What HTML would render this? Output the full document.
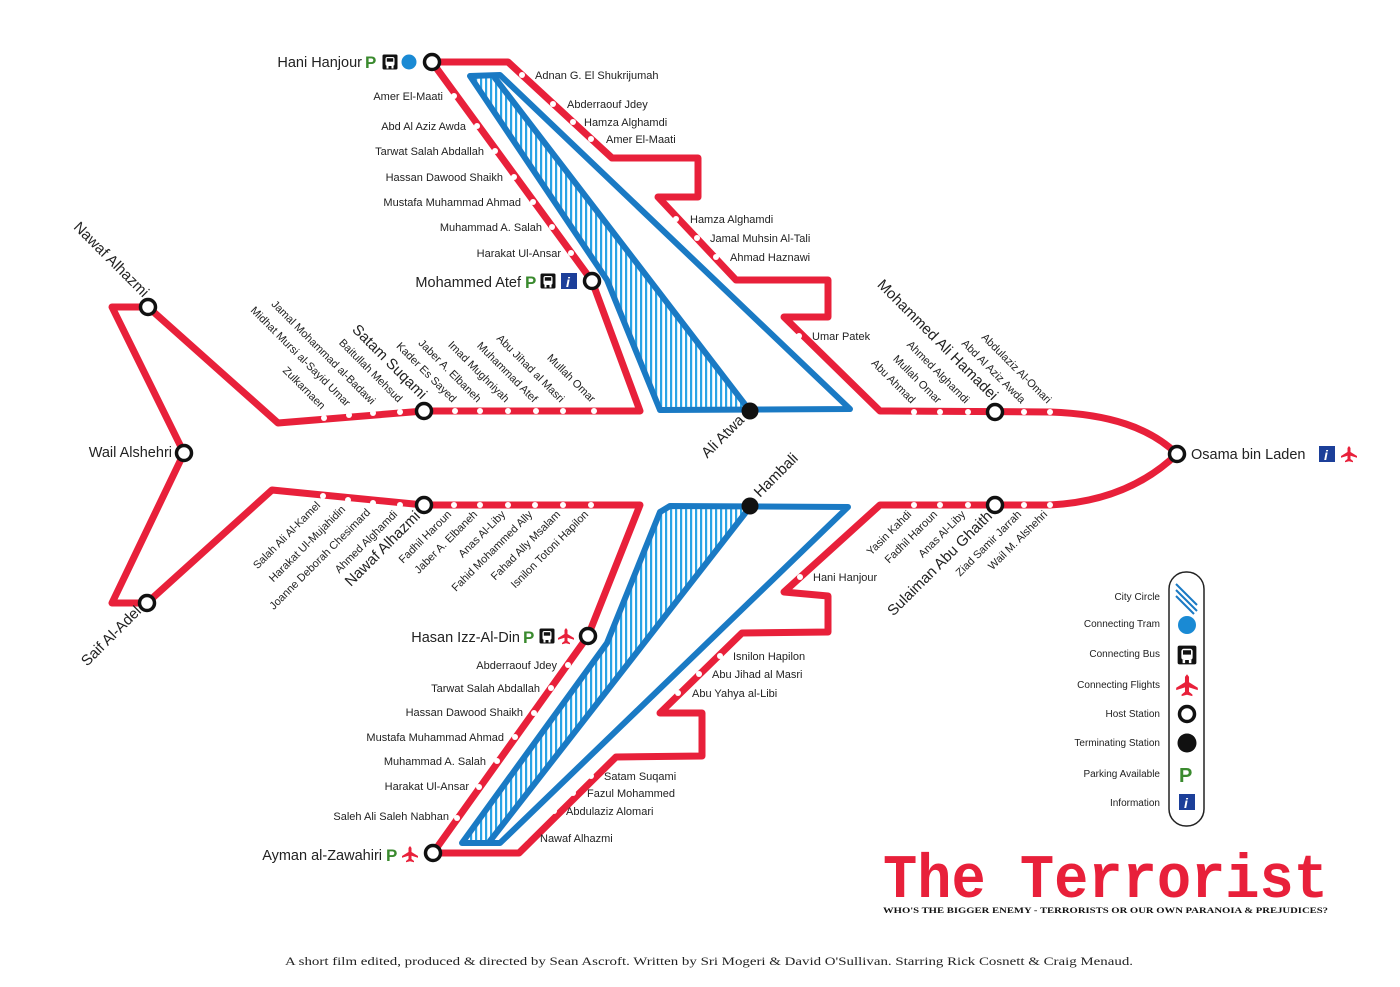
<!DOCTYPE html>
<html><head><meta charset="utf-8"><style>
html,body{margin:0;padding:0;background:#fff;}
svg{display:block;}
text{font-family:"Liberation Sans",sans-serif;fill:#222;}
.s{font-size:11px;}
.m{font-size:14.5px;}
.b{font-size:15px;}
</style></head><body>
<svg width="1400" height="987" viewBox="0 0 1400 987" xmlns="http://www.w3.org/2000/svg">
<defs>
<pattern id="hatch" width="5" height="10" patternUnits="userSpaceOnUse">
<rect width="5" height="10" fill="#fff"/><rect x="0" width="2.2" height="10" fill="#29a3e6"/>
</pattern>
<g id="plane"><path d="M0,-8 L1.5,-6 L1.5,-2 L8,2 L8,3.8 L1.5,1.8 L1.5,5 L4,7 L4,8.2 L0,7.2 L-4,8.2 L-4,7 L-1.5,5 L-1.5,1.8 L-8,3.8 L-8,2 L-1.5,-2 L-1.5,-6 Z" fill="#e8203a"/></g>
<g id="bus"><rect x="-7.5" y="-7.5" width="15" height="15" rx="1.5" fill="#111"/><rect x="-4.5" y="-5" width="9" height="9" rx="2" fill="#fff"/><rect x="-3.2" y="-3.8" width="6.4" height="3.5" fill="#111"/><rect x="-3.5" y="4" width="2" height="2.5" fill="#fff"/><rect x="1.5" y="4" width="2" height="2.5" fill="#fff"/></g>
<g id="info"><rect x="-8" y="-8" width="16" height="16" fill="#1c3f99"/></g>
</defs>

<!-- Blue hatched areas -->
<path d="M468,78 L495,78 Q600,215 750,411 L660,410 L607,280 Z" fill="url(#hatch)"/>
<path d="M662,509 L750,507 L490,841 L462,842 L607,643 Z" fill="url(#hatch)"/>
<g fill="none" stroke="#1a7ac4" stroke-width="6" stroke-linejoin="round" stroke-linecap="round">
<path d="M470,76 L500,75 L850,409 L660,410 L607,280 Z"/>
<path d="M495,78 Q600,215 750,411"/>
<path d="M670,506 L848,507 L500,843 L462,843 L607,643 L660,512 Z"/>
<path d="M750,507 L490,841"/>
</g>

<!-- Red lines -->
<g fill="none" stroke="#e8203a" stroke-width="7" stroke-linejoin="round" stroke-linecap="round">
<path d="M432,62 L508,62 L612,158 L698,158 L698,197 L658,197 L736,280 L828,280 L828,317 L784,317 L880,411 L1050,412 C1110,414 1150,428 1177,454 C1150,480 1110,502 1050,505 L880,505 L784,592 L828,596 L828,632 L742,633 L660,713 L702,713 L702,756 L616,757 L519,853 L433,853"/>
<path d="M432,62 L592,281 L640,411 L424,411 L278,423 L148,307 L112,307 L184,453 L112,603 L147,603 L272,490 L424,505 L640,505 L588,636 L433,853"/>
</g>

<!-- small dots -->
<g fill="#fff">
<circle cx="454" cy="96" r="3"/><circle cx="477" cy="126" r="3"/><circle cx="495" cy="151" r="3"/><circle cx="514" cy="177" r="3"/><circle cx="533" cy="202" r="3"/><circle cx="552" cy="227" r="3"/><circle cx="571" cy="253" r="3"/>
<circle cx="522" cy="75" r="3"/><circle cx="553" cy="104" r="3"/><circle cx="573" cy="122" r="3"/><circle cx="591" cy="139" r="3"/>
<circle cx="676" cy="219" r="3"/><circle cx="697" cy="238" r="3"/><circle cx="716" cy="257" r="3"/><circle cx="799" cy="336" r="3"/>
<circle cx="324" cy="418" r="3"/><circle cx="349" cy="415" r="3"/><circle cx="373" cy="413" r="3"/><circle cx="400" cy="412" r="3"/>
<circle cx="455" cy="411" r="3"/><circle cx="480" cy="411" r="3"/><circle cx="508" cy="411" r="3"/><circle cx="536" cy="411" r="3"/><circle cx="563" cy="411" r="3"/><circle cx="594" cy="411" r="3"/>
<circle cx="323" cy="496" r="3"/><circle cx="348" cy="500" r="3"/><circle cx="373" cy="503" r="3"/><circle cx="400" cy="505" r="3"/>
<circle cx="454" cy="505" r="3"/><circle cx="480" cy="505" r="3"/><circle cx="508" cy="505" r="3"/><circle cx="535" cy="505" r="3"/><circle cx="563" cy="505" r="3"/><circle cx="591" cy="505" r="3"/>
<circle cx="914" cy="412" r="3"/><circle cx="940" cy="412" r="3"/><circle cx="968" cy="412" r="3"/><circle cx="1024" cy="412" r="3"/><circle cx="1050" cy="412" r="3"/>
<circle cx="914" cy="505" r="3"/><circle cx="940" cy="505" r="3"/><circle cx="968" cy="505" r="3"/><circle cx="1024" cy="505" r="3"/><circle cx="1050" cy="505" r="3"/>
<circle cx="568" cy="665" r="3"/><circle cx="551" cy="688" r="3"/><circle cx="534" cy="713" r="3"/><circle cx="515" cy="737" r="3"/><circle cx="497" cy="761" r="3"/><circle cx="479" cy="787" r="3"/><circle cx="457" cy="818" r="3"/>
<circle cx="800" cy="577" r="3"/><circle cx="720" cy="656" r="3"/><circle cx="699" cy="674" r="3"/><circle cx="678" cy="693" r="3"/>
<circle cx="591" cy="776" r="3"/><circle cx="573" cy="793" r="3"/><circle cx="554" cy="811" r="3"/><circle cx="525" cy="838" r="3"/>
</g>

<!-- stations -->
<g fill="#fff" stroke="#111" stroke-width="3.5">
<circle cx="432" cy="62" r="7.5"/><circle cx="592" cy="281" r="7.5"/><circle cx="424" cy="411" r="7.5"/><circle cx="148" cy="307" r="7.5"/><circle cx="184" cy="453" r="7.5"/><circle cx="147" cy="603" r="7.5"/><circle cx="424" cy="505" r="7.5"/><circle cx="588" cy="636" r="7.5"/><circle cx="433" cy="853" r="7.5"/><circle cx="995" cy="412" r="7.5"/><circle cx="995" cy="505" r="7.5"/><circle cx="1177" cy="454" r="7.5"/>
</g>
<circle cx="750" cy="411" r="8.5" fill="#111"/><circle cx="750" cy="506" r="8.5" fill="#111"/>

<!-- station labels with icons -->
<text class="m" x="362" y="67" text-anchor="end">Hani Hanjour</text>
<text x="365" y="68" style="font-size:17px;font-weight:bold;fill:#3a8a2e">P</text>
<use href="#bus" x="390" y="62"/><circle cx="409" cy="62" r="7.5" fill="#1a8ad4"/>
<text class="m" x="521" y="287" text-anchor="end">Mohammed Atef</text>
<text x="525" y="288" style="font-size:17px;font-weight:bold;fill:#3a8a2e">P</text>
<use href="#bus" x="548" y="281"/><use href="#info" x="569" y="281"/><text x="566" y="287" style="font-size:14px;font-weight:bold;font-style:italic;fill:#fff">i</text>
<text class="m" x="520" y="642" text-anchor="end">Hasan Izz-Al-Din</text>
<text x="523" y="643" style="font-size:17px;font-weight:bold;fill:#3a8a2e">P</text>
<use href="#bus" x="547" y="636"/><use href="#plane" x="566" y="636"/>
<text class="m" x="382" y="860" text-anchor="end">Ayman al-Zawahiri</text>
<text x="386" y="861" style="font-size:17px;font-weight:bold;fill:#3a8a2e">P</text>
<use href="#plane" x="410" y="854"/>
<text class="m" x="1191" y="459">Osama bin Laden</text>
<use href="#info" x="1327" y="454"/><text x="1324" y="460" style="font-size:14px;font-weight:bold;font-style:italic;fill:#fff">i</text>
<use href="#plane" x="1349" y="454"/>
<text class="m" x="172" y="457" text-anchor="end">Wail Alshehri</text>

<!-- upper wing labels -->
<g class="s" text-anchor="end">
<text x="443" y="100">Amer El-Maati</text>
<text x="466" y="130">Abd Al Aziz Awda</text>
<text x="484" y="155">Tarwat Salah Abdallah</text>
<text x="503" y="181">Hassan Dawood Shaikh</text>
<text x="521" y="206">Mustafa Muhammad Ahmad</text>
<text x="542" y="231">Muhammad A. Salah</text>
<text x="561" y="257">Harakat Ul-Ansar</text>
</g>
<g class="s">
<text x="535" y="79">Adnan G. El Shukrijumah</text>
<text x="567" y="108">Abderraouf Jdey</text>
<text x="584" y="126">Hamza Alghamdi</text>
<text x="606" y="143">Amer El-Maati</text>
<text x="690" y="223">Hamza Alghamdi</text>
<text x="710" y="242">Jamal Muhsin Al-Tali</text>
<text x="730" y="261">Ahmad Haznawi</text>
<text x="812" y="340">Umar Patek</text>
</g>
<!-- lower wing labels -->
<g class="s" text-anchor="end">
<text x="557" y="669">Abderraouf Jdey</text>
<text x="540" y="692">Tarwat Salah Abdallah</text>
<text x="523" y="716">Hassan Dawood Shaikh</text>
<text x="504" y="741">Mustafa Muhammad Ahmad</text>
<text x="486" y="765">Muhammad A. Salah</text>
<text x="469" y="790">Harakat Ul-Ansar</text>
<text x="449" y="820">Saleh Ali Saleh Nabhan</text>
</g>
<g class="s">
<text x="813" y="581">Hani Hanjour</text>
<text x="733" y="660">Isnilon Hapilon</text>
<text x="712" y="678">Abu Jihad al Masri</text>
<text x="692" y="697">Abu Yahya al-Libi</text>
<text x="604" y="780">Satam Suqami</text>
<text x="587" y="797">Fazul Mohammed</text>
<text x="566" y="815">Abdulaziz Alomari</text>
<text x="540" y="842">Nawaf Alhazmi</text>
</g>

<!-- rotated upper labels (45deg, ending above dot) -->
<g class="s" text-anchor="end">
<text transform="translate(321,410) rotate(45)">Zulkarnaen</text>
<text transform="translate(346,407) rotate(45)">Midhat Mursi al-Sayid Umar</text>
<text transform="translate(371,405) rotate(45)">Jamal Mohammad al-Badawi</text>
<text transform="translate(398,403) rotate(45)">Baitullah Mehsud</text>
<text transform="translate(452,403) rotate(45)">Kader Es Sayed</text>
<text transform="translate(477,403) rotate(45)">Jaber A. Elbaneh</text>
<text transform="translate(505,403) rotate(45)">Imad Mughniyah</text>
<text transform="translate(533,403) rotate(45)">Muhammad Atef</text>
<text transform="translate(560,403) rotate(45)">Abu Jihad al Masri</text>
<text transform="translate(591,403) rotate(45)">Mullah Omar</text>
<text transform="translate(911,404) rotate(45)">Abu Ahmad</text>
<text transform="translate(937,404) rotate(45)">Mullah Omar</text>
<text transform="translate(965,404) rotate(45)">Ahmed Alghamdi</text>
<text transform="translate(1021,404) rotate(45)">Abd Al Aziz Awda</text>
<text transform="translate(1047,404) rotate(45)">Abdulaziz Al-Omari</text>
</g>
<g class="b" text-anchor="end">
<text transform="translate(421,400) rotate(45)">Satam Suqami</text>
<text transform="translate(992,401) rotate(45)">Mohammed Ali Hamadei</text>
<text transform="translate(143,298) rotate(45)">Nawaf Alhazmi</text>
<text transform="translate(745,421) rotate(-45)">Ali Atwa</text>
<text transform="translate(142,612) rotate(-45)">Saif Al-Adel</text>
<text transform="translate(421,517) rotate(-45)">Nawaf Alhazmi</text>
<text transform="translate(993,517) rotate(-45)">Sulaiman Abu Ghaith</text>
</g>
<text class="b" transform="translate(760,498) rotate(-45)">Hambali</text>
<!-- rotated lower labels -->
<g class="s" text-anchor="end">
<text transform="translate(321,506) rotate(-45)">Salah Ali Al-Kamel</text>
<text transform="translate(346,510) rotate(-45)">Harakat Ul-Mujahidin</text>
<text transform="translate(371,513) rotate(-45)">Joanne Deborah Chesimard</text>
<text transform="translate(398,515) rotate(-45)">Ahmed Alghamdi</text>
<text transform="translate(452,515) rotate(-45)">Fadhil Haroun</text>
<text transform="translate(478,515) rotate(-45)">Jaber A. Elbaneh</text>
<text transform="translate(506,515) rotate(-45)">Anas Al-Liby</text>
<text transform="translate(533,515) rotate(-45)">Fahid Mohammed Ally</text>
<text transform="translate(561,515) rotate(-45)">Fahad Ally Msalam</text>
<text transform="translate(589,515) rotate(-45)">Isnilon Totoni Hapilon</text>
<text transform="translate(912,515) rotate(-45)">Yasin Kahdi</text>
<text transform="translate(938,515) rotate(-45)">Fadhil Haroun</text>
<text transform="translate(966,515) rotate(-45)">Anas Al-Liby</text>
<text transform="translate(1022,515) rotate(-45)">Ziad Samir Jarrah</text>
<text transform="translate(1048,515) rotate(-45)">Wail M. Alshehri</text>
</g>

<!-- legend -->
<rect x="1169" y="572" width="35" height="254" rx="17" fill="#fff" stroke="#222" stroke-width="1.5"/>
<g style="font-size:10px" text-anchor="end">
<text x="1160" y="600">City Circle</text>
<text x="1160" y="627">Connecting Tram</text>
<text x="1160" y="657">Connecting Bus</text>
<text x="1160" y="688">Connecting Flights</text>
<text x="1160" y="717">Host Station</text>
<text x="1160" y="746">Terminating Station</text>
<text x="1160" y="777">Parking Available</text>
<text x="1160" y="806">Information</text>
</g>
<g stroke="#1a7ac4" stroke-width="2"><line x1="1176" y1="584" x2="1197" y2="605"/><line x1="1176" y1="590" x2="1197" y2="611"/><line x1="1176" y1="596" x2="1194" y2="614"/></g>
<circle cx="1187" cy="625" r="9" fill="#1a8ad4"/>
<g transform="translate(1187,655) scale(1.25)"><use href="#bus"/></g>
<g transform="translate(1187,685) scale(1.35)"><use href="#plane"/></g>
<circle cx="1187" cy="714" r="7.5" fill="#fff" stroke="#111" stroke-width="3.5"/>
<circle cx="1187" cy="743" r="9.5" fill="#111"/>
<text x="1179" y="782" style="font-size:20px;font-weight:bold;fill:#3a8a2e">P</text>
<use href="#info" x="1187" y="802"/><text x="1184" y="808" style="font-size:14px;font-weight:bold;font-style:italic;fill:#fff">i</text>

<!-- title -->
<text x="883" y="897" textLength="445" lengthAdjust="spacingAndGlyphs" style="font-family:'Liberation Mono',monospace;font-size:62px;font-weight:bold;fill:#e8203a">The Terrorist</text>
<text x="883" y="913" textLength="445" lengthAdjust="spacingAndGlyphs" style="font-family:'Liberation Serif',serif;font-size:8.5px;font-weight:bold;fill:#111">WHO'S THE BIGGER ENEMY - TERRORISTS OR OUR OWN PARANOIA &amp; PREJUDICES?</text>
<text x="285" y="965" textLength="848" lengthAdjust="spacingAndGlyphs" style="font-family:'Liberation Serif',serif;font-size:12px;fill:#222">A short film edited, produced &amp; directed by Sean Ascroft. Written by Sri Mogeri &amp; David O'Sullivan. Starring Rick Cosnett &amp; Craig Menaud.</text>
</svg>
</body></html>
